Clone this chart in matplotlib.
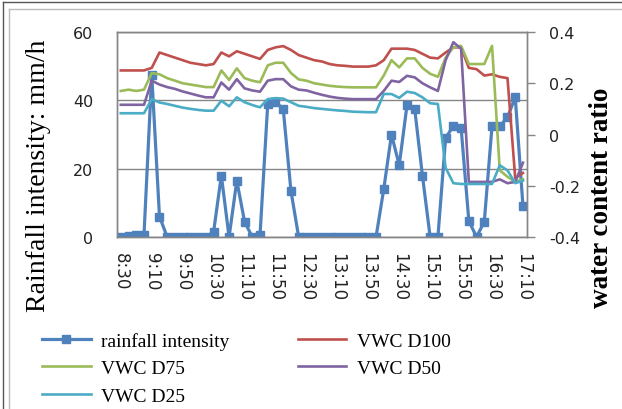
import matplotlib
matplotlib.use("Agg")
import matplotlib.pyplot as plt
from matplotlib.lines import Line2D
import pandas as pd

plt.rcParams['axes.unicode_minus'] = False

# 10-minute readings, 8:30 .. 17:10
times = pd.date_range("2000-01-01 08:30", "2000-01-01 17:10", freq="10min")
categories = [f"{t.hour}:{t.minute:02d}" for t in times]
tick_every = 4

rainfall = [0, 0.3, 0.5, 0.7, 47.5, 6, 0, 0, 0, 0, 0, 0,
            1.5, 18, 0, 16.5, 4.5, 0, 0.5, 39, 39.5, 37.5, 13.5,
            0, 0, 0, 0, 0, 0, 0, 0, 0, 0, 0,
            14, 30, 21, 38.5, 37.5, 18, 0, 0, 29, 32.5, 32, 4.7, 0, 4.5,
            32.5, 32.5, 35, 41, 9]

vwc_d100 = [0.25, 0.25, 0.25, 0.25, 0.26, 0.32, 0.31, 0.30, 0.29, 0.28, 0.275, 0.27,
            0.275, 0.32, 0.305, 0.325, 0.315, 0.305, 0.295, 0.33, 0.34, 0.345, 0.33,
            0.31, 0.30, 0.29, 0.285, 0.275, 0.27, 0.268, 0.265, 0.265, 0.265, 0.27,
            0.29, 0.335, 0.335, 0.335, 0.33, 0.315, 0.30, 0.297, 0.32, 0.34, 0.34,
            0.26, 0.255, 0.23, 0.235, 0.225, 0.22, -0.17, -0.15]
vwc_d75 = [0.17, 0.175, 0.17, 0.175, 0.24, 0.235, 0.22, 0.21, 0.20, 0.195, 0.19, 0.185,
           0.185, 0.25, 0.213, 0.258, 0.22, 0.21, 0.204, 0.27, 0.28, 0.28, 0.24,
           0.215, 0.21, 0.20, 0.195, 0.19, 0.187, 0.185, 0.184, 0.184, 0.184, 0.184,
           0.23, 0.29, 0.262, 0.297, 0.297, 0.26, 0.237, 0.225, 0.30, 0.34, 0.346,
           0.275, 0.275, 0.275, 0.346, -0.14, -0.165, -0.185, -0.175]
vwc_d50 = [0.116, 0.116, 0.116, 0.116, 0.21, 0.195, 0.185, 0.178, 0.168, 0.16, 0.152, 0.145,
           0.145, 0.203, 0.175, 0.216, 0.18, 0.172, 0.167, 0.21, 0.216, 0.216, 0.188,
           0.175, 0.172, 0.163, 0.155, 0.148, 0.143, 0.14, 0.138, 0.138, 0.138, 0.138,
           0.17, 0.21, 0.205, 0.229, 0.223, 0.20, 0.184, 0.17, 0.29, 0.36, 0.335,
           -0.185, -0.185, -0.185, -0.185, -0.175, -0.19, -0.185, -0.11]
vwc_d25 = [0.083, 0.083, 0.083, 0.083, 0.138, 0.125, 0.119, 0.112, 0.105, 0.10, 0.096, 0.093,
           0.093, 0.132, 0.11, 0.145, 0.126, 0.115, 0.106, 0.138, 0.142, 0.14, 0.126,
           0.112, 0.108, 0.103, 0.10, 0.097, 0.094, 0.092, 0.089, 0.088, 0.087, 0.087,
           0.158, 0.158, 0.143, 0.167, 0.162, 0.145, 0.122, 0.119, -0.13, -0.19, -0.193,
           -0.193, -0.193, -0.193, -0.193, -0.12, -0.14, -0.19, -0.18]

serif = "Liberation Serif"
grey = "#868686"

fig = plt.figure(figsize=(6.22, 4.10), dpi=100)
ax = fig.add_axes([0.188, 0.4195, 0.659, 0.5])
ax2 = ax.twinx()

x = list(range(len(categories)))
ax.plot(x, rainfall, color="#4F81BD", lw=2.3, marker="s", ms=5.5,
        label="rainfall intensity")
ax2.plot(x, vwc_d100, color="#C0504D", lw=1.9, label="VWC D100")
ax2.plot(x, vwc_d75, color="#9BBB59", lw=1.9, label="VWC D75")
ax2.plot(x, vwc_d50, color="#8064A2", lw=1.9, label="VWC D50")
ax2.plot(x, vwc_d25, color="#4BACC6", lw=1.9, label="VWC D25")

ax.set_xlim(-0.5, len(categories) - 0.5)
ax.set_ylim(0, 60)
ax.set_yticks([0, 20, 40, 60])
ax2.set_ylim(-0.4, 0.4)
ax2.set_yticks([-0.4, -0.2, 0, 0.2, 0.4])
ax2.set_yticklabels(["-0.4", "-0.2", "0", "0.2", "0.4"])

ax.set_xticks(x[::tick_every])
ax.set_xticklabels(categories[::tick_every], rotation=-90)
ax.tick_params(axis="x", length=0, pad=11, labelsize=12, labelcolor="#222222")
ax.tick_params(axis="y", length=0, pad=17, labelsize=11.5, labelcolor="#222222")
ax2.tick_params(axis="y", length=6, width=1, color=grey, pad=10,
                labelsize=11.5, labelcolor="#222222")

ax.grid(axis="y", color=grey, lw=1)
for a in (ax, ax2):
    for s in a.spines.values():
        s.set_color(grey)
        s.set_linewidth(1)

fig.text(39 / 622, 1 - 176 / 410, "Rainfall intensity: mm/h", rotation=90,
         ha="center", va="center", fontsize=20, family=serif)
fig.text(601 / 622, 1 - 198 / 410, "water content ratio", rotation=90,
         ha="center", va="center", fontsize=19.5, family=serif, weight="bold")

h1, l1 = ax.get_legend_handles_labels()
h2, l2 = ax2.get_legend_handles_labels()
hd = dict(zip(l1 + l2, h1 + h2))
order = ["rainfall intensity", "VWC D75", "VWC D25", "VWC D100", "VWC D50"]
fig.legend([hd[k] for k in order], order, ncol=2, frameon=False,
           loc="upper left", bbox_to_anchor=(42 / 622, 1 - 333 / 410),
           prop={"family": serif, "size": 14}, handlelength=2.5,
           handletextpad=0.55, labelspacing=0.5, columnspacing=3.5,
           borderpad=0, borderaxespad=0)

# chart frame (cropped on the right and bottom)
fig.add_artist(Line2D([3 / 622, 3 / 622], [0, 1 - 3 / 410], color="#555555", lw=1))
fig.add_artist(Line2D([3 / 622, 1], [1 - 3 / 410, 1 - 3 / 410], color="#555555", lw=1))
fig.add_artist(Line2D([9 / 622, 9 / 622], [0, 1 - 10 / 410], color="#bbbbbb", lw=1))
fig.add_artist(Line2D([9 / 622, 1], [1 - 10 / 410, 1 - 10 / 410], color="#bbbbbb", lw=1))

fig.savefig("out.png", dpi=100)
